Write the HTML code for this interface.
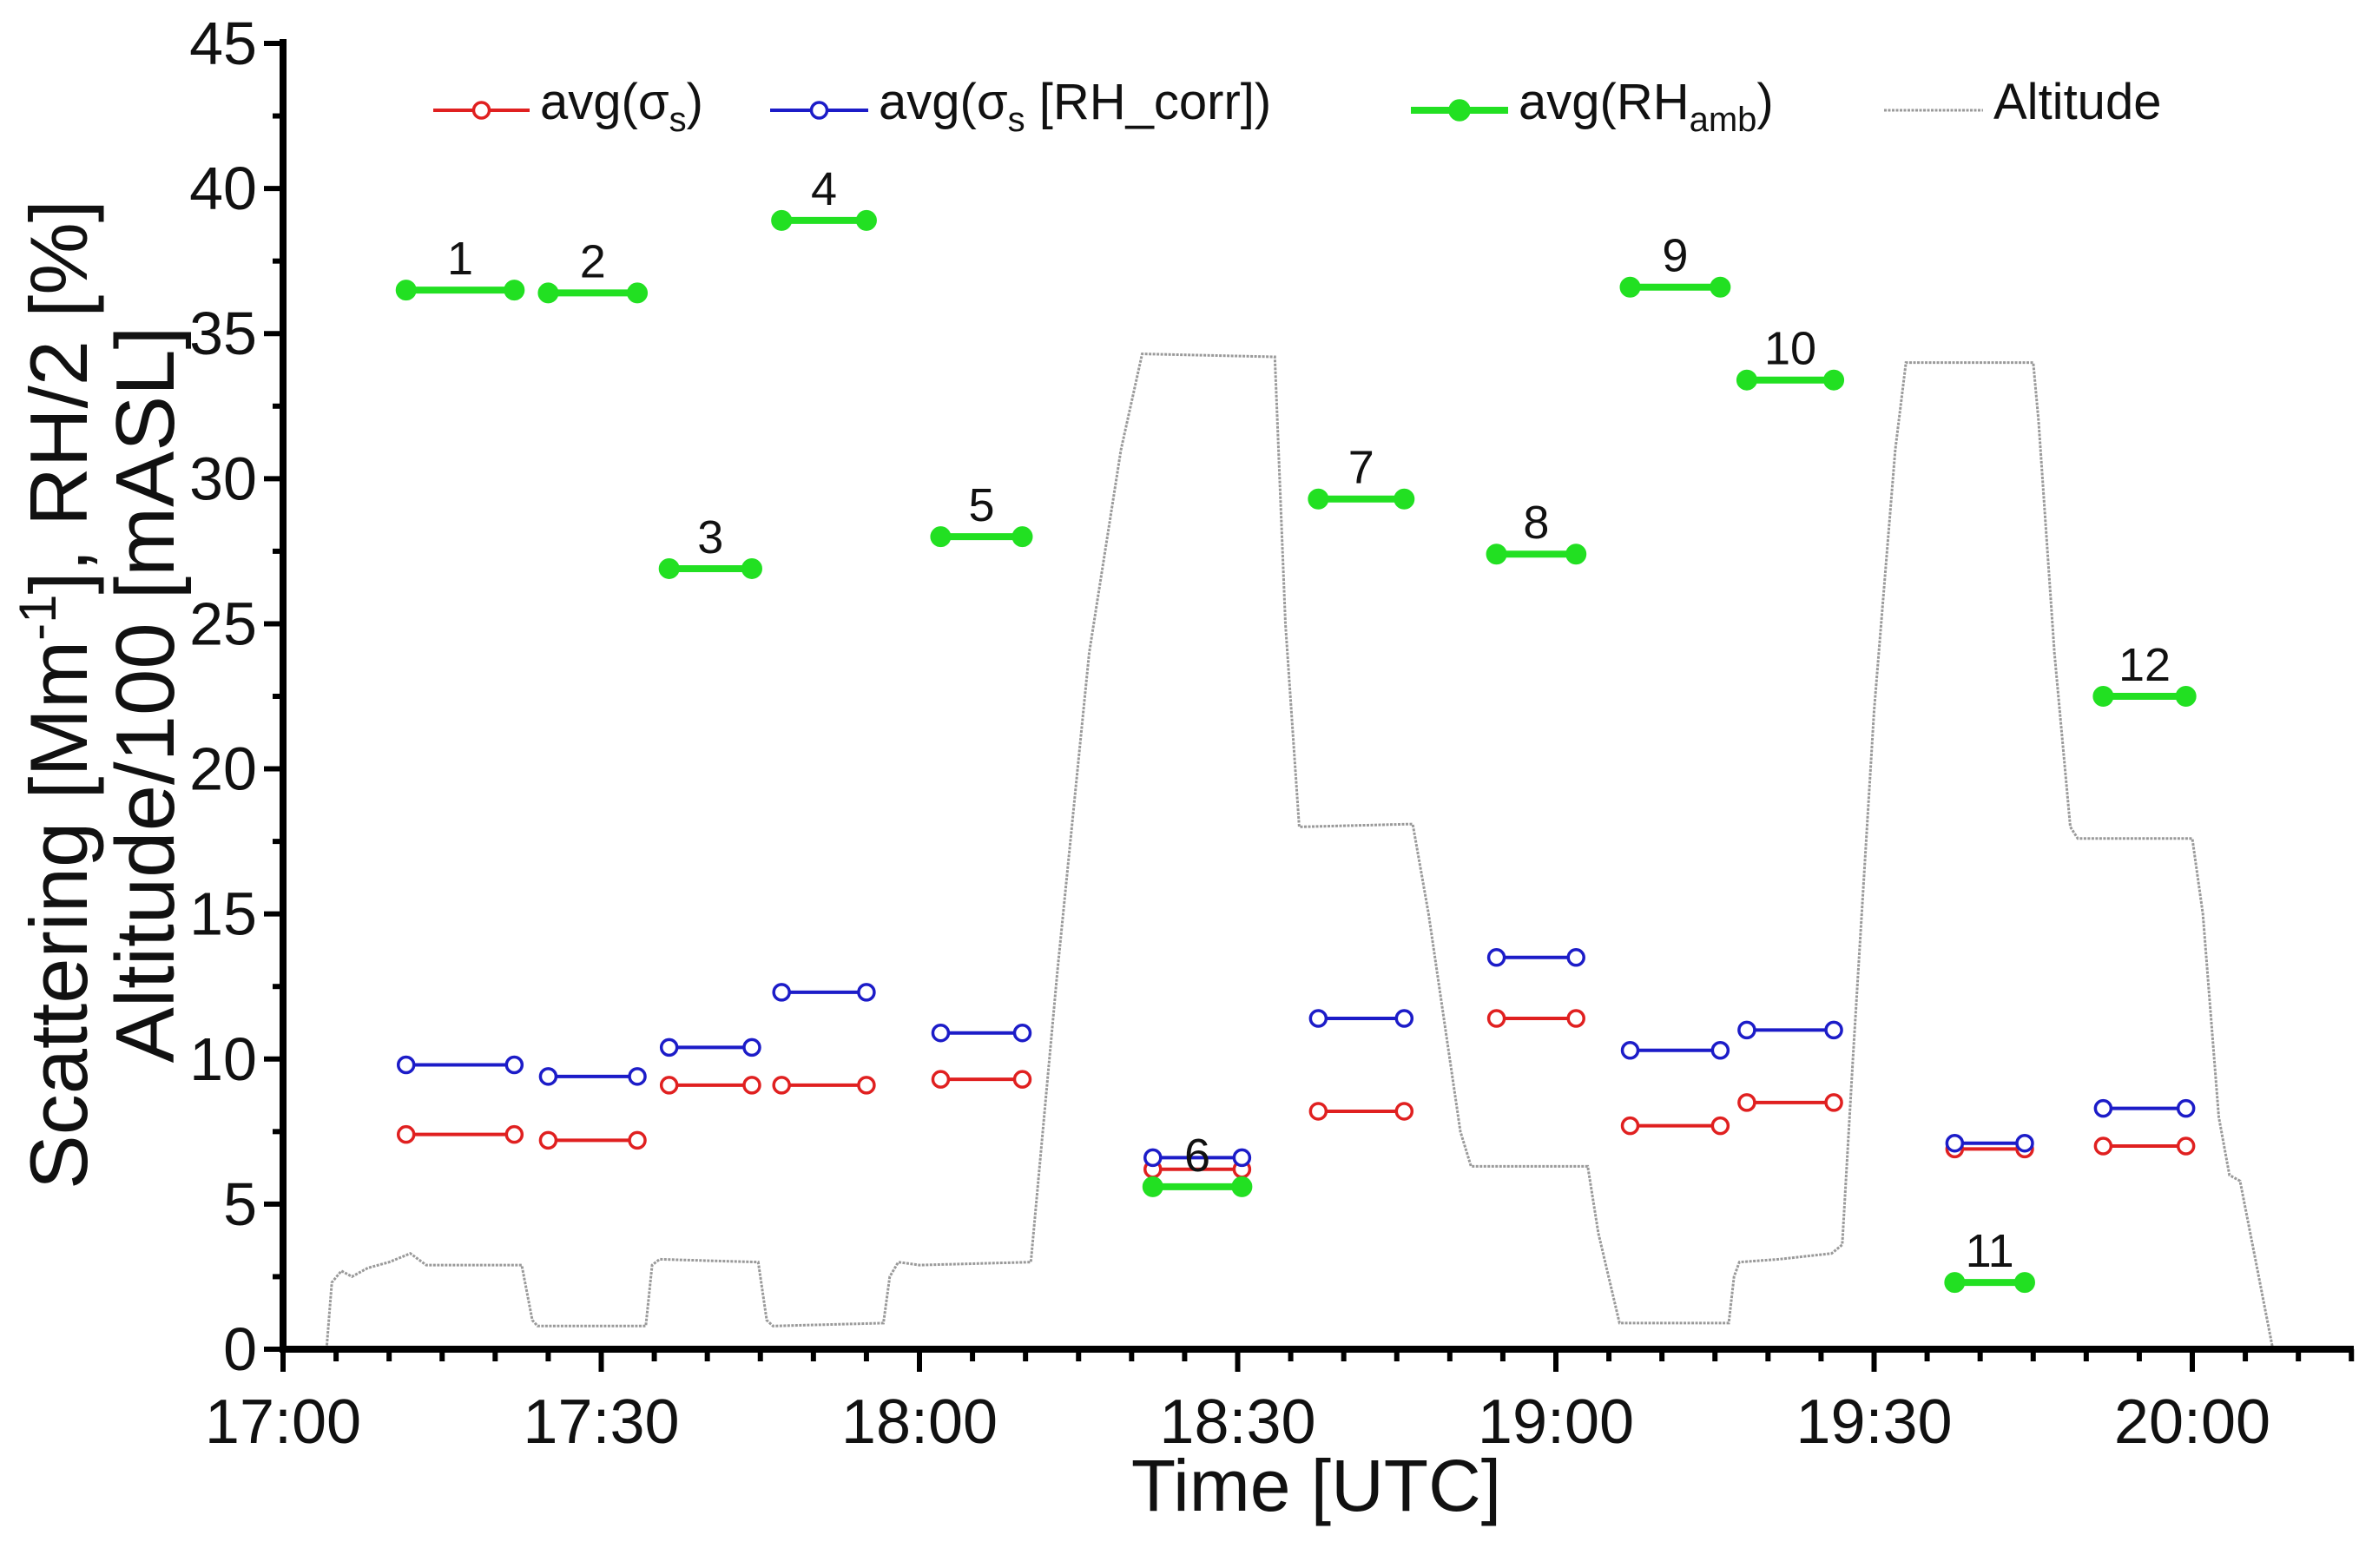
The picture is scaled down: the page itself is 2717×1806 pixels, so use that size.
<!DOCTYPE html>
<html><head><meta charset="utf-8"><style>
html,body{margin:0;padding:0;background:#fff;}
svg{display:block;font-family:"Liberation Sans",Arial,sans-serif;}
</style></head><body>
<svg id="chart" width="2717" height="1806" viewBox="0 0 2717 1806" xmlns="http://www.w3.org/2000/svg">
<g id="plot"></g>
<g id="axes"></g>
<g id="legend"></g>
</svg>
<script>
// ---- data (time in minutes after 17:00) ----
const segLabels = ["1","2","3","4","5","6","7","8","9","10","11","12"];
const segStart = [11.6,25,36.4,47,62,82,97.6,114.4,127,138,157.6,171.6];
const segEnd   = [21.8,33.4,44.2,55,69.7,90.4,105.7,121.9,135.5,146.2,164.2,179.4];
const rhAmb    = [36.5,36.4,26.9,38.9,28.0,5.6,29.3,27.4,36.6,33.4,2.3,22.5];
const sigmaCorr= [9.8,9.4,10.4,12.3,10.9,6.6,11.4,13.5,10.3,11.0,7.1,8.3];
const sigmaS   = [7.4,7.2,9.1,9.1,9.3,6.2,8.2,11.4,7.7,8.5,6.9,7.0];
const altTime = [4.1,4.6,5.5,6.5,8,10,12,13.5,22.5,23.5,24,34.2,34.8,35.5,44.8,45.6,46.2,56.6,57.2,58,60,70.5,71,73,76,79,81,93.5,94.5,95.8,106.5,108,111,112,123,124,126,136.3,136.8,137.3,141,146,147,148,150,152,153,165,165.5,167,168.5,169.2,180,181,182.5,183.5,184.5,186,187.6];
const altVal  = [0,2.3,2.7,2.5,2.8,3.0,3.3,2.9,2.9,1.0,0.8,0.8,2.9,3.1,3.0,1.0,0.8,0.9,2.5,3.0,2.9,3.0,5,13,24,31,34.3,34.2,25,18,18.1,15,7.5,6.3,6.3,4,0.9,0.9,2.5,3.0,3.1,3.3,3.6,10,22,31,34,34,32,24,18,17.6,17.6,15,8,6,5.8,3,0];
const yTicks = [0,5,10,15,20,25,30,35,40,45];
const xTickMin = [0,30,60,90,120,150,180];
const xTickLabels = ["17:00","17:30","18:00","18:30","19:00","19:30","20:00"];

// ---- scales ----
const X0=326, PXMIN=366.5/30, Y0=1554, PXU=(1554-50)/45;
const sx = m => X0 + m*PXMIN;
const sy = v => Y0 - v*PXU;
const NS="http://www.w3.org/2000/svg";
function mk(tag, attrs, parent){const e=document.createElementNS(NS,tag);for(const k in attrs)e.setAttribute(k,attrs[k]);parent.appendChild(e);return e;}
const plot=document.getElementById('plot'), axes=document.getElementById('axes'), legend=document.getElementById('legend');

// altitude line
let d=altTime.map((t,i)=>(i?'L':'M')+sx(t).toFixed(1)+','+sy(altVal[i]).toFixed(1)).join('');
const alt=mk('path',{d:d,fill:'none',stroke:'#9a9a9a','stroke-width':3,'stroke-dasharray':'3,1.5'},plot);



function seg(vals,color,filled,name,w,r){
  vals.forEach((v,i)=>{
    const g=mk('g',{},plot);
    
    
    const x1=sx(segStart[i]),x2=sx(segEnd[i]),y=sy(v);
    mk('line',{x1:x1,x2:x2,y1:y,y2:y,stroke:color,'stroke-width':w},g);
    [x1,x2].forEach(x=>mk('circle',{cx:x,cy:y,r:r,fill:filled?color:'#fff',stroke:color,'stroke-width':filled?2:3.5},g));
  });
}
seg(sigmaS,'#e02020',false,'sigma-s',4,9);
seg(sigmaCorr,'#1c1cc8',false,'sigma-corr',4,9);
seg(rhAmb,'#22e022',true,'rh-amb',8,11);
rhAmb.forEach((v,i)=>{
  const t=mk('text',{x:(sx(segStart[i])+sx(segEnd[i]))/2,y:sy(v)-18,'font-size':54,'text-anchor':'middle',fill:'#111'},plot);
  t.textContent=segLabels[i];
  
  
});

// axes
mk('line',{x1:X0,y1:45,x2:X0,y2:Y0+4,stroke:'#000','stroke-width':8},axes);
mk('line',{x1:X0-4,y1:Y0,x2:2711,y2:Y0,stroke:'#000','stroke-width':8},axes);
for(let v=0;v<=45;v+=2.5){
  const major=v%5===0;
  mk('line',{x1:X0-(major?22:12),x2:X0,y1:sy(v),y2:sy(v),stroke:'#000','stroke-width':6},axes);
}
yTicks.forEach(v=>{
  const t=mk('text',{x:X0-30,y:sy(v)+24,'font-size':70,'text-anchor':'end',fill:'#111'},axes);
  t.textContent=v;
  
  
});
for(let m=0;m<=195;m+=5){
  const major=m%30===0;
  mk('line',{x1:sx(m),x2:sx(m),y1:Y0,y2:Y0+(major?26:14),stroke:'#000','stroke-width':6},axes);
}
xTickMin.forEach((m,i)=>{
  const t=mk('text',{x:sx(m),y:1662,'font-size':72,'text-anchor':'middle',fill:'#111'},axes);
  t.textContent=xTickLabels[i];
  
  
});
const xt=mk('text',{x:1516,y:1740,'font-size':84,'text-anchor':'middle',fill:'#111'},axes);
xt.textContent='Time [UTC]';


const yt=mk('text',{transform:'translate(100,800) rotate(-90)','font-size':94,'text-anchor':'middle',fill:'#111'},axes);
yt.innerHTML='Scattering [Mm<tspan dy="-36" font-size="60">-1</tspan><tspan dy="36">],  RH/2 [%]</tspan>';


const yt2=mk('text',{transform:'translate(200,800) rotate(-90)','font-size':96,'text-anchor':'middle',fill:'#111'},axes);
yt2.textContent='Altitude/100 [mASL]';



// legend
const LY=127;
function leg(x1,x2,color,filled,w,name,html,dash){
  const g=mk('g',{},legend);
  
  
  mk('line',{x1:x1,x2:x2,y1:LY,y2:LY,stroke:color,'stroke-width':w,'stroke-dasharray':dash||'none'},g);
  if(color!=='#9a9a9a') mk('circle',{cx:(x1+x2)/2,cy:LY,r:filled?11:9,fill:filled?color:'#fff',stroke:color,'stroke-width':3.5},g);
  const t=mk('text',{x:x2+12,y:LY+10,'font-size':58,fill:'#111'},g);
  t.innerHTML=html;
}
leg(499,610,'#e02020',false,4,'legend-sigma-s','avg(σ<tspan dy="14" font-size="40">s</tspan><tspan dy="-14">)</tspan>');
leg(887,1000,'#1c1cc8',false,4,'legend-sigma-corr','avg(σ<tspan dy="14" font-size="40">s</tspan><tspan dy="-14"> [RH_corr])</tspan>');
leg(1625,1737,'#22e022',true,8,'legend-rh-amb','avg(RH<tspan dy="14" font-size="40">amb</tspan><tspan dy="-14">)</tspan>');
leg(2170,2284,'#9a9a9a',false,3,'legend-altitude','Altitude','3,1.5');
</script>
</body></html>
